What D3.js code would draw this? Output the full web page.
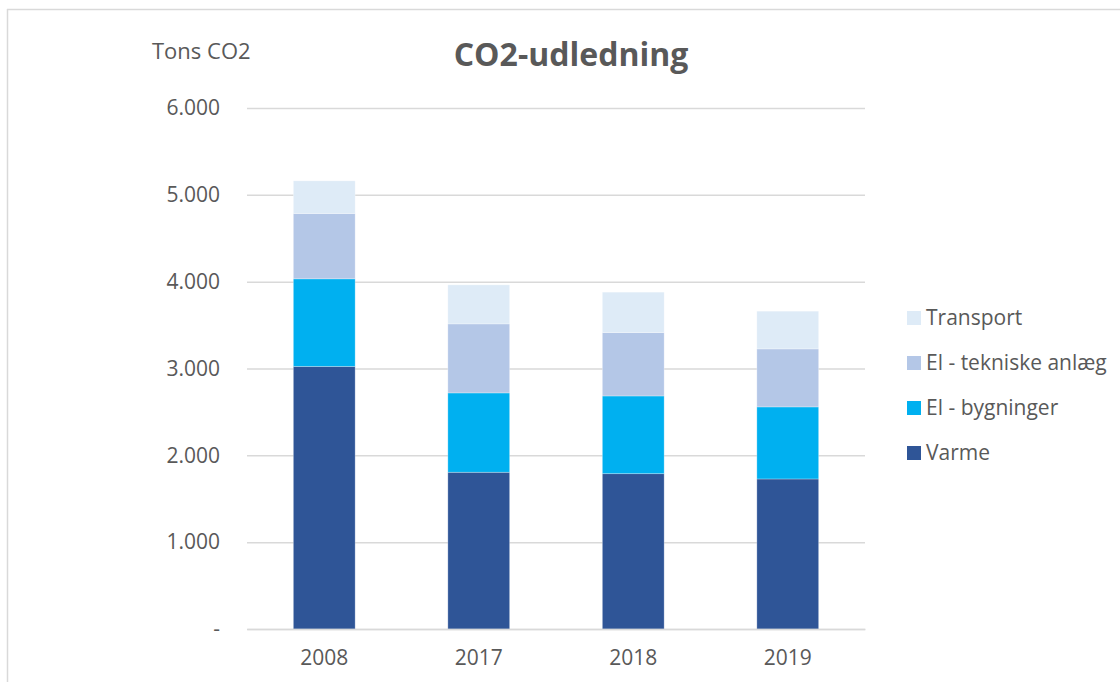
<!DOCTYPE html>
<html>
<head>
<meta charset="utf-8">
<script src="https://cdn.jsdelivr.net/npm/d3@7"></script>
<style>
  html, body { margin: 0; padding: 0; background: #fff; }
  svg { display: block; }
  text { font-family: "Open Sans", "Liberation Sans", sans-serif; fill: #595959; }
</style>
</head>
<body>
<svg id="chart" width="1120" height="682"></svg>
<script>
const years = ["2008", "2017", "2018", "2019"];
const seriesNames = ["Varme", "El - bygninger", "El - tekniske anlæg", "Transport"];
const varme = [3024, 1805, 1789, 1728];
const elBygninger = [1009, 914, 895, 830];
const elTekniske = [752, 795, 730, 668];
const transport = [376, 449, 465, 434];
const yTicks = [0, 1000, 2000, 3000, 4000, 5000, 6000];
const colors = ["#2F5597", "#00B0F0", "#B4C7E7", "#DEEBF7"];
const title = "CO2-udledning";
const yUnit = "Tons CO2";

const svg = d3.select("#chart");
const W = 1120, H = 682;

// outer chart border (partially visible)
svg.append("line").attr("x1", 7).attr("x2", W).attr("y1", 9.5).attr("y2", 9.5)
  .attr("stroke", "#d9d9d9").attr("stroke-width", 1.5);
svg.append("line").attr("x1", 7.5).attr("x2", 7.5).attr("y1", 9).attr("y2", H)
  .attr("stroke", "#d9d9d9").attr("stroke-width", 1.5);

const x = d3.scaleBand().domain(years).range([247, 865]).paddingInner(0.6).paddingOuter(0.3);
const y = d3.scaleLinear().domain([0, 6000]).range([629, 108]);

const rows = years.map((yr, i) => ({
  year: yr,
  "Varme": varme[i],
  "El - bygninger": elBygninger[i],
  "El - tekniske anlæg": elTekniske[i],
  "Transport": transport[i]
}));
const stacked = d3.stack().keys(seriesNames)(rows);

const loc = d3.formatLocale({ decimal: ",", thousands: ".", grouping: [3], currency: ["", " kr"] });
const fmt = loc.format(",d");

// gridlines
const yAxis = d3.axisLeft(y).tickValues(yTicks).tickSize(-(865 - 247)).tickPadding(27)
  .tickFormat(d => d === 0 ? "-" : fmt(d));
const gy = svg.append("g").attr("transform", "translate(247,0)").call(yAxis);
gy.select(".domain").remove();
gy.selectAll(".tick line").attr("stroke", "#d9d9d9").attr("stroke-width", 1.5);
gy.selectAll(".tick text").attr("font-size", 21).attr("fill", "#595959")
  .attr("font-family", "'Open Sans', 'Liberation Sans', sans-serif");

// bars
svg.append("g").selectAll("g").data(stacked).join("g")
  .attr("fill", (d, i) => colors[i])
  .selectAll("rect").data(d => d).join("rect")
  .attr("x", d => x(d.data.year))
  .attr("width", x.bandwidth())
  .attr("y", d => y(d[1]))
  .attr("height", d => y(d[0]) - y(d[1]))
  .attr("stroke", "#ffffff").attr("stroke-opacity", 0.35).attr("stroke-width", 0.8);

// x axis
const xAxis = d3.axisBottom(x).tickSize(0).tickPadding(21);
const gx = svg.append("g").attr("transform", "translate(0,629)").call(xAxis);
gx.select(".domain").attr("stroke", "#d9d9d9").attr("stroke-width", 1.5);
gx.selectAll(".tick text").attr("font-size", 21).attr("fill", "#595959")
  .attr("font-family", "'Open Sans', 'Liberation Sans', sans-serif");

// title
svg.append("text").attr("x", 571).attr("y", 66).attr("text-anchor", "middle")
  .attr("font-size", 32).attr("font-weight", "bold").text(title);
svg.append("text").attr("x", 152).attr("y", 59).attr("font-size", 22).text(yUnit);

// legend
const legendOrder = seriesNames.map((n, i) => ({ name: n, color: colors[i] })).reverse();
const lg = svg.append("g").selectAll("g").data(legendOrder).join("g")
  .attr("transform", (d, i) => `translate(907, ${318 + i * 45})`);
lg.append("rect").attr("x", 0).attr("y", -7).attr("width", 14).attr("height", 14).attr("fill", d => d.color);
lg.append("text").attr("x", 19).attr("y", 0).attr("dy", "0.35em").attr("font-size", 21).text(d => d.name);
</script>
</body>
</html>
